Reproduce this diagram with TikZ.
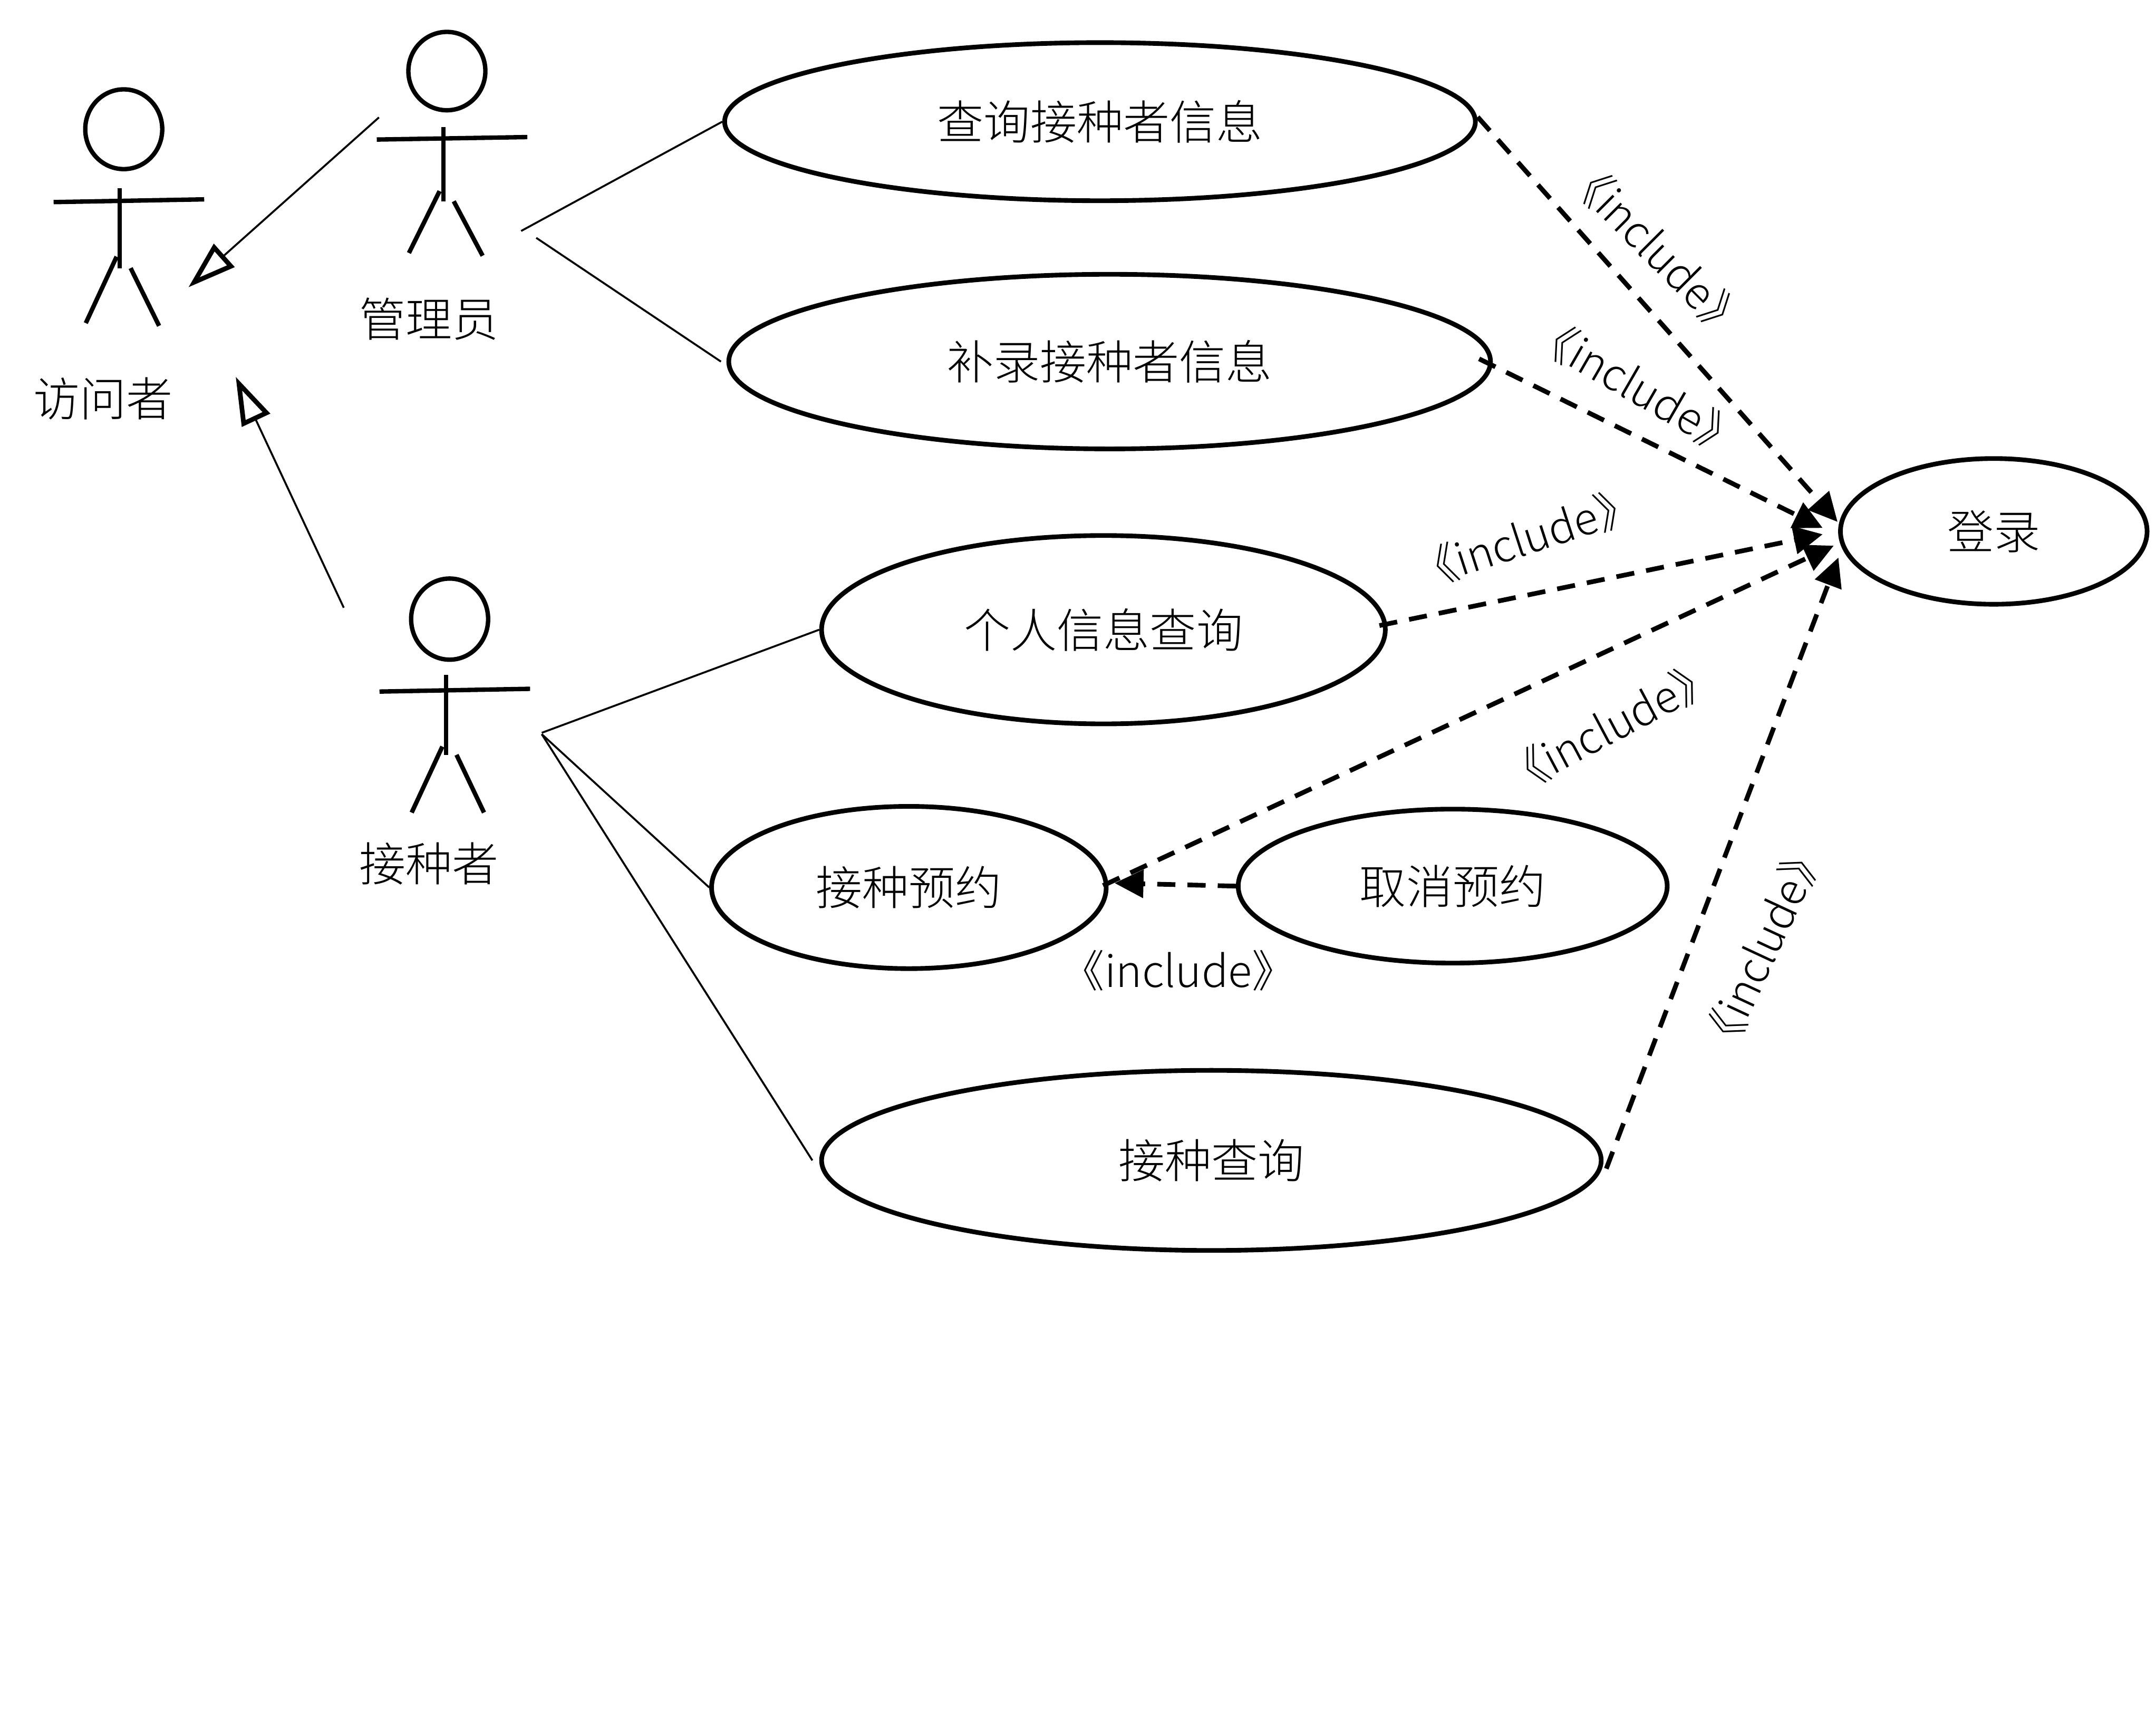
\documentclass[tikz,border=0pt]{standalone}
\usepackage{fontspec}
\usetikzlibrary{shapes.geometric,arrows.meta}
\newfontfamily\cjk{Noto Sans CJK SC Light}
\tikzset{
  actorline/.style={line width=1.6pt},
  usecase/.style={draw,ellipse,line width=1.7pt,inner sep=0pt,font=\cjk\fontsize{16.9}{20}\selectfont},
  lbl/.style={inner sep=0pt,font=\cjk\fontsize{16.9}{20}\selectfont},
  stereo/.style={inner sep=0pt,font=\cjk\fontsize{16}{19}\selectfont},
  assoc/.style={line width=0.7pt},
  general/.style={line width=0.7pt,-{Triangle[open,length=17.5pt,width=11pt,line width=1.7pt]}},
  incl/.style={line width=1.7pt,dash pattern=on 6.6pt off 4.4pt,-{Triangle[length=10.5pt,width=10pt]}},
}
\begin{document}
\begin{tikzpicture}[x=0.5pt,y=-0.5pt]
\useasboundingbox (0,0) rectangle (1568,1246.6);

% visitor actor
\draw[actorline] (90,94) ellipse [x radius=28,y radius=29];
\draw[actorline] (39,147) -- (148.5,145);
\draw[actorline] (87,137) -- (87,195);
\draw[actorline] (84.8,186.7) -- (62.4,235);
\draw[actorline] (95,195) -- (115.7,237);
% admin actor
\draw[actorline] (325,51.7) ellipse [x radius=28,y radius=28.5];
\draw[actorline] (274,101.5) -- (383.5,99.7);
\draw[actorline] (322.4,92.5) -- (322.4,146.4);
\draw[actorline] (319.7,139) -- (297.4,184);
\draw[actorline] (330,146.4) -- (351,186);
% recipient actor
\draw[actorline] (327,450.3) ellipse [x radius=28,y radius=29.5];
\draw[actorline] (276,503) -- (385.5,501);
\draw[actorline] (324.4,491) -- (324.4,549);
\draw[actorline] (321.7,543) -- (299.4,591);
\draw[actorline] (332,549) -- (352,591);

% actor labels
\node[lbl] (lvisitor) at (75,290) {访问者};
\node[lbl] (ladmin) at (312,232) {管理员};
\node[lbl] (lrecip) at (312,628) {接种者};

% use cases
\node[usecase,minimum width=273pt,minimum height=57.5pt] (e1) at (800,88.5) {查询接种者信息};
\node[usecase,minimum width=277pt,minimum height=63.5pt] (e2) at (807,263) {补录接种者信息};
\node[usecase,minimum width=205pt,minimum height=68.5pt] (e3) at (802.5,458) {个人信息查询};
\node[usecase,minimum width=143.5pt,minimum height=59pt] (e4) at (661,645.5) {接种预约};
\node[usecase,minimum width=156pt,minimum height=56pt] (e5) at (1056.5,644.5) {取消预约};
\node[usecase,minimum width=283.5pt,minimum height=65.5pt] (e6) at (881,844) {接种查询};
\node[usecase,minimum width=111.5pt,minimum height=53pt] (login) at (1450,386.5) {登录};

% free ends
\coordinate (adminL) at (275.6,85.4);
\coordinate (visA) at (137,209);
\coordinate (recipT) at (250,442);
\coordinate (visB) at (171.4,274);
\coordinate (adminA) at (379,168);
\coordinate (adminB) at (390,173);
\coordinate (recipA) at (394,533);
\coordinate (recipB) at (394,534);
\coordinate (t1) at (1336.4,379.6);
\coordinate (t2) at (1325.6,384);
\coordinate (t3) at (1325.6,388.6);
\coordinate (t4) at (1333.6,396.9);
\coordinate (t5) at (810.6,642.3);
\coordinate (t6) at (1337,405.5);

% generalisations
\draw[general] (adminL) -- (visA);
\draw[general] (recipT) -- (visB);

% associations
\draw[assoc] (adminA) -- (e1.west);
\draw[assoc] (adminB) -- ([xshift=-2pt]e2.west);
\draw[assoc] (recipA) -- (e3.west);
\draw[assoc] (recipB) -- (e4.west);
\draw[assoc] (recipB) -- ([xshift=-2.5pt]e6.west);

% include dependencies
\draw[incl] ([yshift=1.7pt]e1.east) -- (t1);
\draw[incl] ([shift={(-5pt,1pt)}]e2.east) -- (t2);
\draw[incl] ([shift={(-3pt,1.5pt)}]e3.east) -- (t3);
\draw[incl] ([shift={(-2pt,0.7pt)}]e4.east) -- (t4);
\draw[incl] (e5.west) -- (t5);
\draw[incl] ([shift={(1pt,-3pt)}]e6.east) -- (t6);

% include labels
\node[stereo,rotate=-45] (s1) at (1205,181) {《include》};
\node[stereo,rotate=-30] (s2) at (1191,281) {《include》};
\node[stereo,rotate=18] (s3) at (1110,391) {《include》};
\node[stereo,rotate=28] (s4) at (1171,528) {《include》};
\node[stereo] (s5) at (857,706) {《include》};
\node[stereo,rotate=65] (s6) at (1282,689) {《include》};
\end{tikzpicture}
\end{document}
